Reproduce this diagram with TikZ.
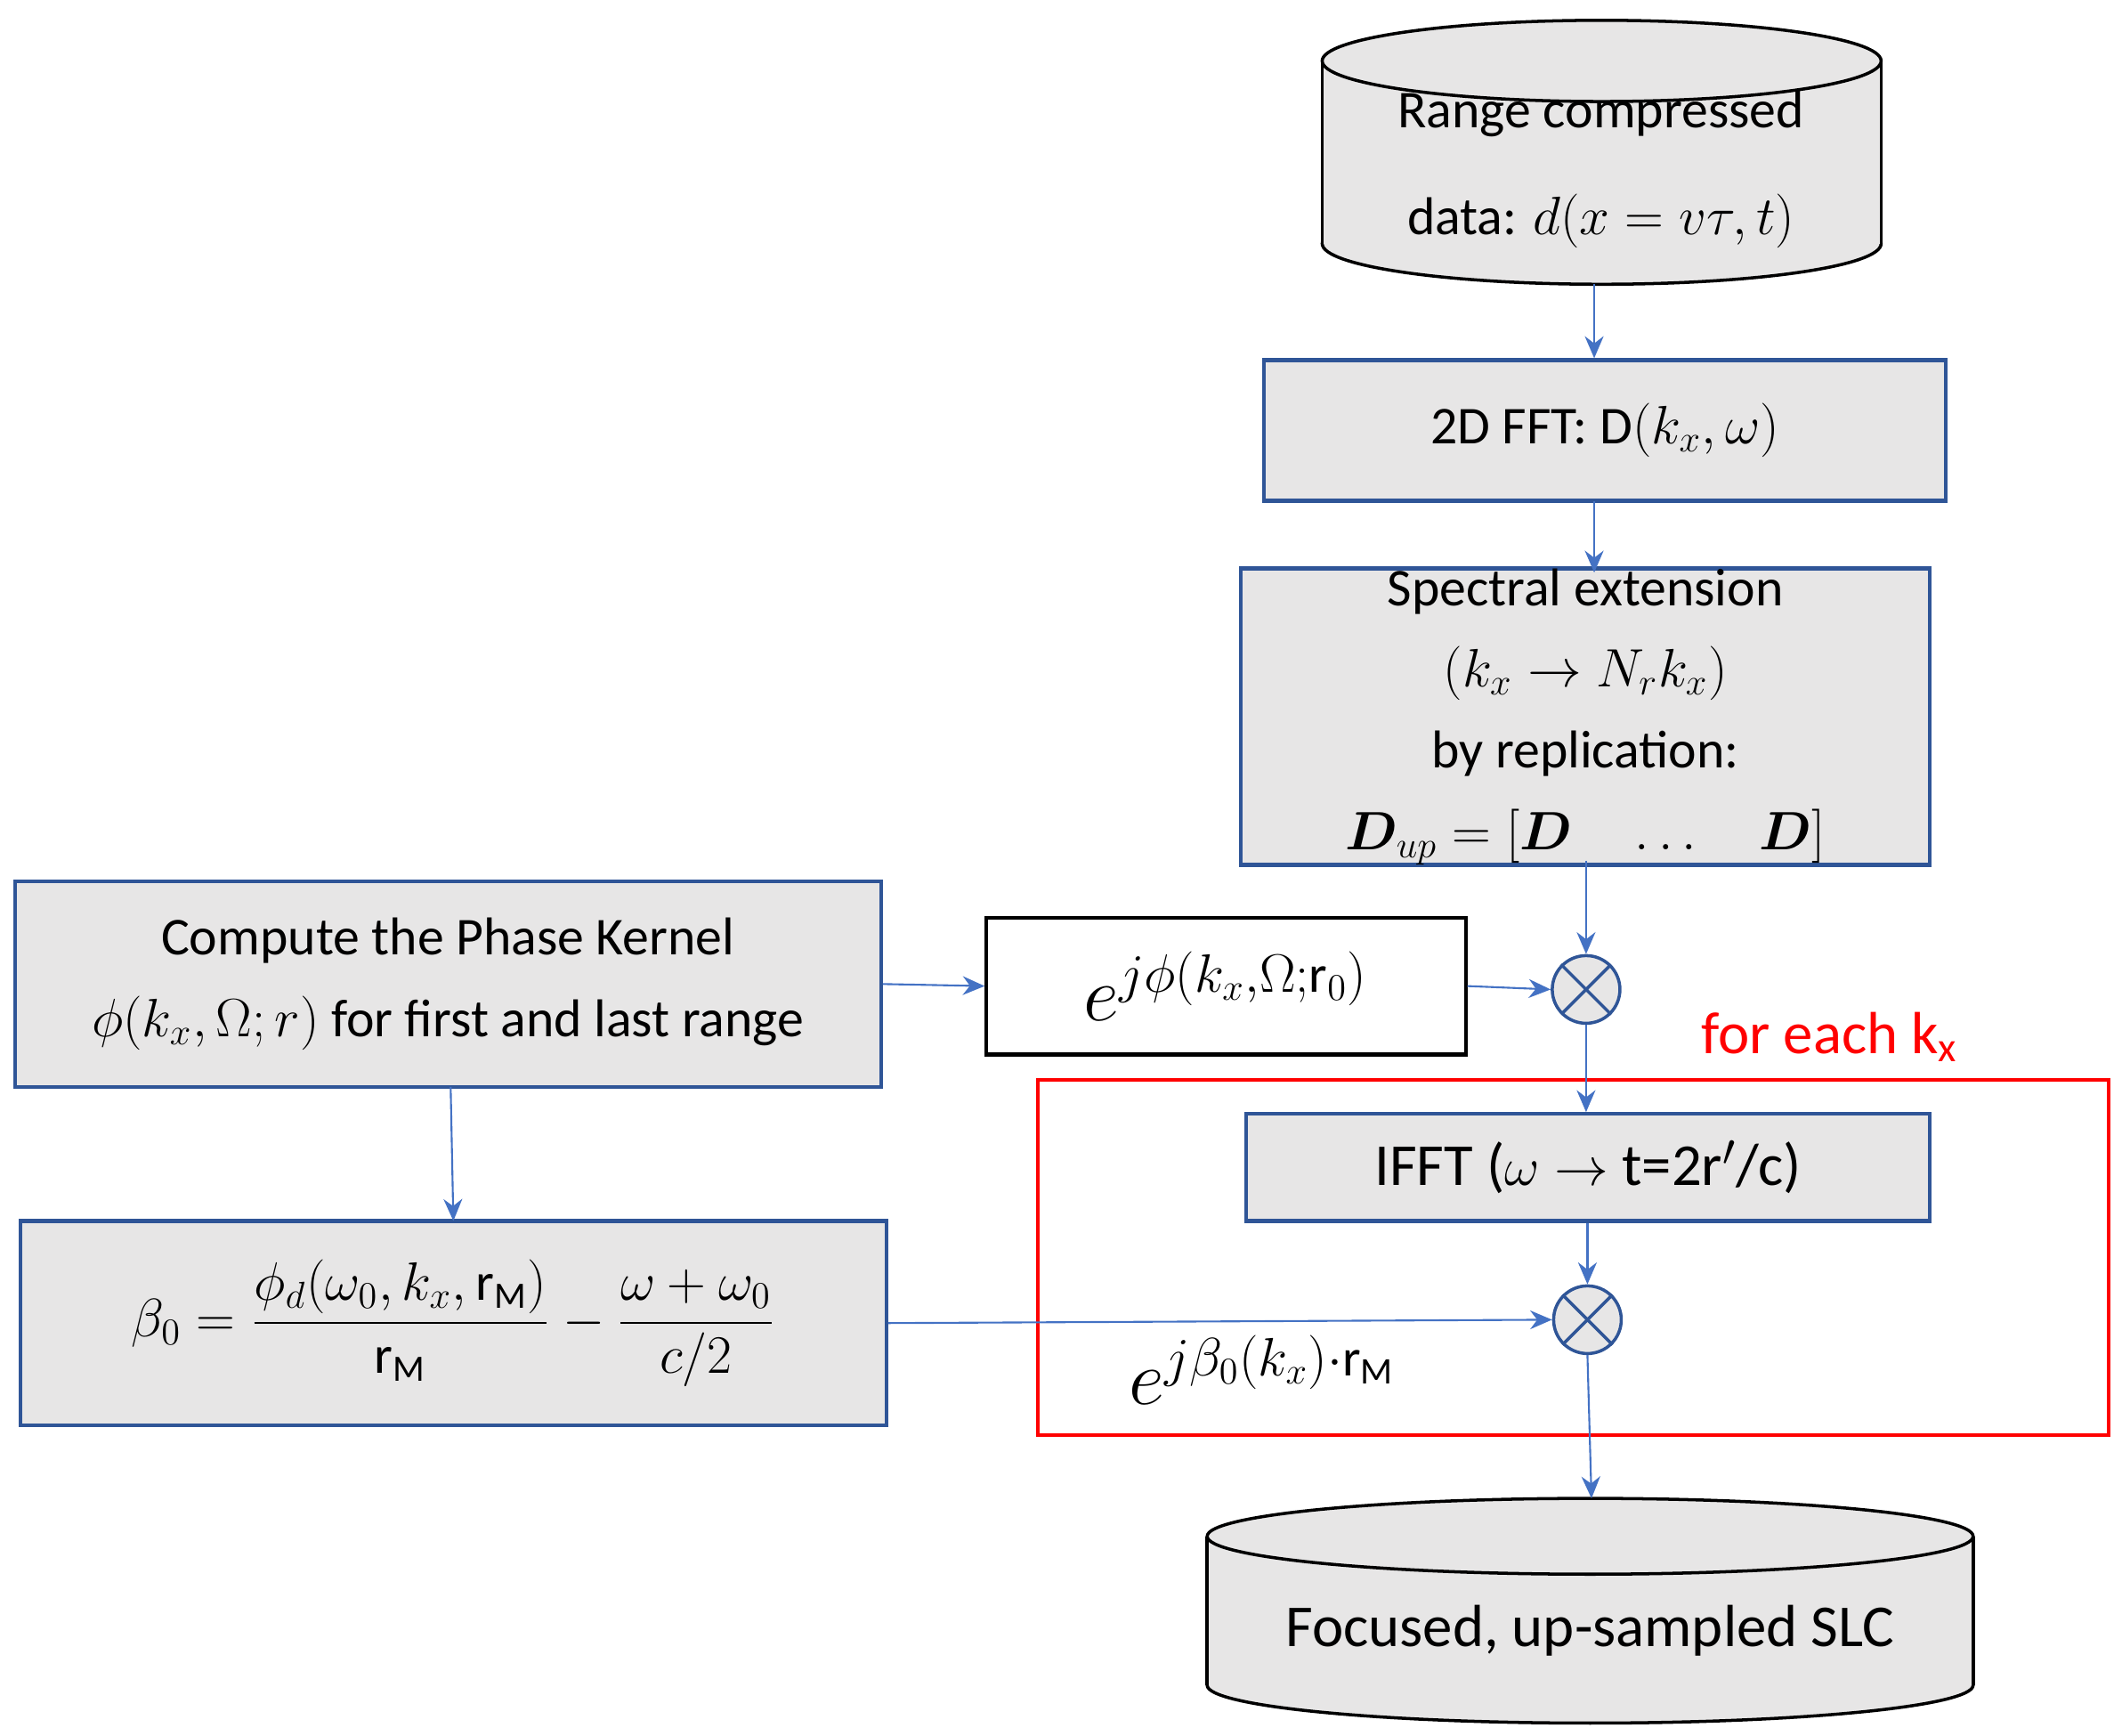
\documentclass[tikz,border=0pt]{standalone}
\usepackage{fontspec}
\setmainfont{Carlito}
\usepackage{amsmath,bm}
\usetikzlibrary{arrows.meta}
\definecolor{bfill}{HTML}{E7E6E6}
\definecolor{bdraw}{HTML}{2F5597}
\definecolor{arr}{HTML}{4472C4}
\tikzset{
 box/.style={draw=bdraw,line width=1.2pt,fill=bfill,inner sep=0pt,align=center,font=\fontsize{17}{22}\selectfont},
 con/.style={draw=arr,line width=0.6pt,-{Stealth[length=7pt,width=6pt]}},
 mult/.style={circle,draw=bdraw,fill=bfill,line width=1pt,minimum size=50*0.0152cm,inner sep=0pt},
}
\begin{document}
\begin{tikzpicture}[x=0.0152cm,y=-0.0152cm]
\useasboundingbox (0,0) rectangle (1568,1282);
% top cylinder
\fill[bfill] (977,45) rectangle (1390,180);
\filldraw[fill=bfill,draw=black,line width=1pt] (1183.5,180) ellipse [x radius=206.5,y radius=30];
\fill[bfill] (977,45) rectangle (1390,180);
\draw[line width=1pt] (977,45)--(977,180) (1390,45)--(1390,180);
\filldraw[fill=bfill,draw=black,line width=1pt] (1183.5,45) ellipse [x radius=206.5,y radius=30];
\node[align=center,font=\fontsize{17}{34}\selectfont] (rcd) at (1183,125) {Range compressed\\data: $d(x=v\tau,t)$};
\coordinate (rcdb) at (1178,210);
% bottom cylinder
\filldraw[fill=bfill,draw=black,line width=1pt] (1175,1245) ellipse [x radius=283,y radius=28];
\fill[bfill] (892,1135) rectangle (1458,1245);
\draw[line width=1pt] (892,1135)--(892,1245) (1458,1135)--(1458,1245);
\filldraw[fill=bfill,draw=black,line width=1pt] (1175,1135) ellipse [x radius=283,y radius=28];
\node[font=\fontsize{19}{22}\selectfont] (slc) at (1175,1205) {Focused, up-sampled SLC};
\coordinate (slct) at (1176,1107);
% boxes
\node[box,minimum width=504*0.0152cm,minimum height=104*0.0152cm] (fft) at (1186,318) {2D FFT: D$(k_x,\omega)$};
\node[box,minimum width=509*0.0152cm,minimum height=213*0.0152cm,font=\fontsize{17}{26}\selectfont] (spec) at (1171.5,529.5)
 {Spectral extension\\$(k_x\rightarrow N_r k_x)$\\by replication:\\$\bm{D}_{up}=[\bm{D}\quad\ldots\quad\bm{D}]$};
\node[box,minimum width=640*0.0152cm,minimum height=152*0.0152cm,font=\fontsize{17}{26}\selectfont] (phase) at (331,727)
 {Compute the Phase Kernel\\$\phi(k_x,\Omega;r)$ for first and last range};
\node[draw=black,line width=1.2pt,fill=white,minimum width=354*0.0152cm,minimum height=101*0.0152cm,font=\fontsize{24}{28}\selectfont] (ex) at (906,728.5)
 {$e^{j\phi(k_x,\Omega;\mathrm{r}_0)}$};
\node[box,minimum width=505*0.0152cm,minimum height=79*0.0152cm,font=\fontsize{19}{22}\selectfont] (ifft) at (1173.5,862.5) {IFFT ($\omega\rightarrow$ t=2r$'$/c)};
\node[box,minimum width=640*0.0152cm,minimum height=151*0.0152cm] (beta) at (335,977.5)
 {$\beta_0=\dfrac{\phi_d(\omega_0,k_x,\mathrm{r_M})}{\mathrm{r_M}}-\dfrac{\omega+\omega_0}{c/2}$};
\node[mult] (m1) at (1172,731) {};
\draw[bdraw,line width=1pt] (m1.north west)--(m1.south east) (m1.north east)--(m1.south west);
\node[mult] (m2) at (1173,975) {};
\draw[bdraw,line width=1pt] (m2.north west)--(m2.south east) (m2.north east)--(m2.south west);
% red frame
\draw[red,line width=1.2pt] (767,798) rectangle (1558,1060);
\node[red,font=\fontsize{19}{22}\selectfont] (fe) at (1352,766) {for each k$_\mathrm{x}$};
\node[font=\fontsize{24}{28}\selectfont] (bl) at (933,1012) {$e^{j\beta_0(k_x)\cdot\mathrm{r_M}}$};
% connectors
\draw[con] (rcdb) -- (fft.north -| rcdb);
\draw[con] (1178,370) -- (1178,423);
\draw[con] (1172,636) -- (m1.north);
\draw[con] (phase.east) -- (ex.west);
\draw[con] (ex.east) -- (m1.west);
\draw[con] (m1.south) -- (ifft.north -| m1.south);
\draw[con] (ifft.south -| m2.north) -- (m2.north);
\draw[con] (333,803) -- (335,902);
\draw[con] (beta.east) -- (m2.west);
\draw[con] (m2.south) -- (slct);
\end{tikzpicture}
\end{document}
